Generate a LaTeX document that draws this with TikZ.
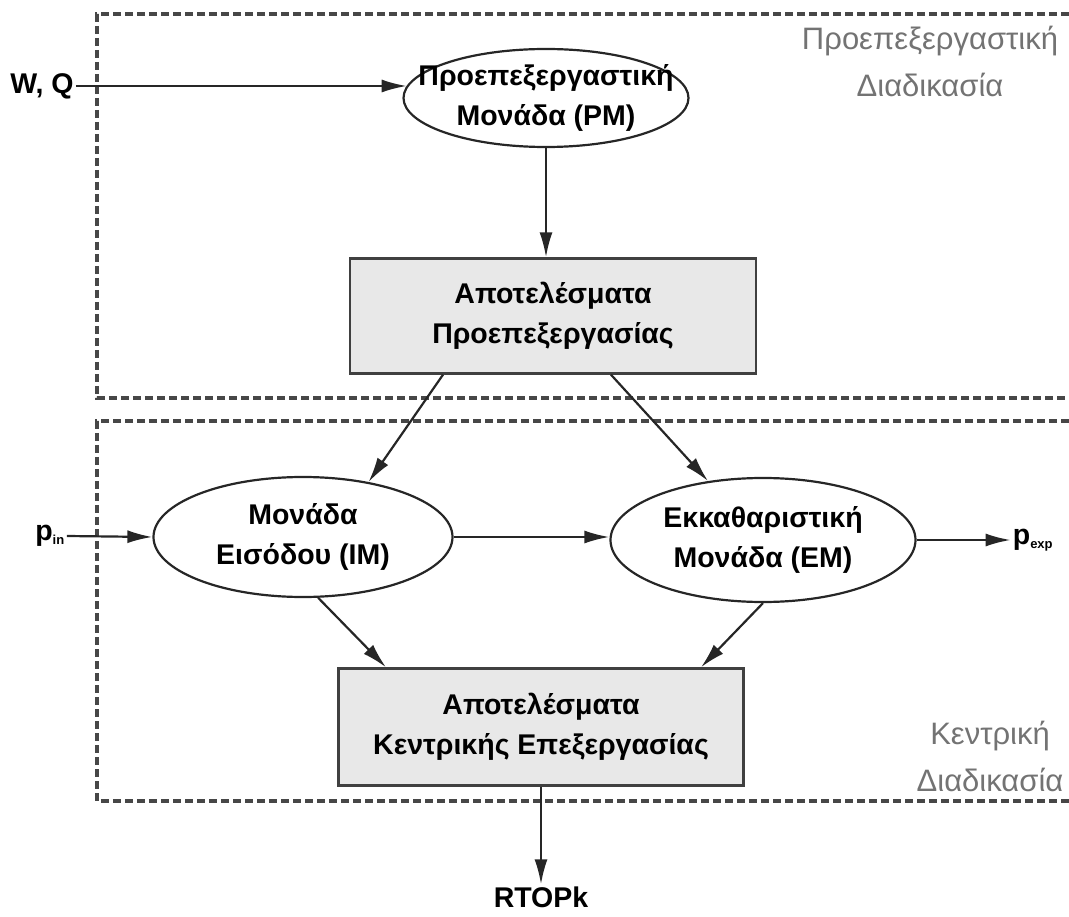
\documentclass[tikz,border=0pt]{standalone}
\usepackage{fontspec}
\setmainfont{Liberation Sans}
\usetikzlibrary{shapes.geometric,arrows.meta}
\begin{document}
\begin{tikzpicture}[x=1pt,y=-1pt,
  bt/.style={font=\bfseries\fontsize{28.5}{40}\selectfont, align=center},
  ell/.style={ellipse, draw=black!85, line width=2.2pt, inner sep=0pt},
  gbox/.style={rectangle, draw=black!75, line width=2.4pt, fill=black!9, inner sep=0pt, bt},
  arr/.style={-{Latex[length=25pt,width=13pt]}, line width=2.2pt, draw=black!85},
  dashbox/.style={draw=black!72, line width=3.4pt, dash pattern=on 8pt off 4pt},
  side/.style={font=\fontsize{31}{47}\selectfont, text=black!55, align=center},
  io/.style={font=\bfseries\fontsize{28.5}{32}\selectfont, inner sep=2pt}]
\useasboundingbox (0,0) rectangle (1069,917);
% dashed regions
\draw[dashbox] (1069,14) -- (97,14) -- (97,398) -- (1069,398);
\draw[dashbox] (1069,421) -- (97,421) -- (97,801) -- (1069,801);
% side labels
\node[side] (lab1) at (930,61) {Προεπεξεργαστική\\Διαδικασία};
\node[side] (lab2) at (990,756) {Κεντρική\\Διαδικασία};
% nodes
\node[ell, minimum width=285pt, minimum height=98pt,
  label={[bt]center:Προεπεξεργαστική\\Μονάδα (PM)}] (PM) at (546,98) {};
\node[gbox, minimum width=406pt, minimum height=115pt] (R1) at (553,316) {Αποτελέσματα\\Προεπεξεργασίας};
\node[ell, minimum width=299pt, minimum height=120pt,
  label={[bt]center:Μονάδα\\Εισόδου (IM)}] (IM) at (303,537) {};
\node[ell, minimum width=305pt, minimum height=124pt,
  label={[bt]center:Εκκαθαριστική\\Μονάδα (EM)}] (EM) at (763,540) {};
\node[gbox, minimum width=405pt, minimum height=117pt] (R2) at (541,727) {Αποτελέσματα\\Κεντρικής Επεξεργασίας};
% inputs / outputs
\node[io] (WQ) at (42,86) {W, Q};
\node[io] (pin) at (50,536) {p\textsubscript{\fontsize{13}{13}\selectfont in}};
\node[io] (pexp) at (1033,540) {p\textsubscript{\fontsize{13}{13}\selectfont exp}};
\node[io] (rtop) at (541,897) {RTOPk};
% connectors
\draw[arr] (WQ.east) -- (WQ.east -| PM.175);
\draw[arr] (PM.south) -- (PM.south |- R1.north);
\draw[arr] ([xshift=-110pt]R1.south) -- (IM.40);
\draw[arr] ([xshift=58pt]R1.south) -- (EM.133);
\draw[arr] (pin.east) -- (IM.west);
\draw[arr] (IM.east) -- (IM.east -| EM.west);
\draw[arr] (EM.east) -- (pexp.west);
\draw[arr] (IM.-76) -- ([xshift=-155pt]R2.north);
\draw[arr] (EM.south) -- ([xshift=160pt]R2.north);
\draw[arr] (R2.south) -- (rtop.north);
\end{tikzpicture}
\end{document}
